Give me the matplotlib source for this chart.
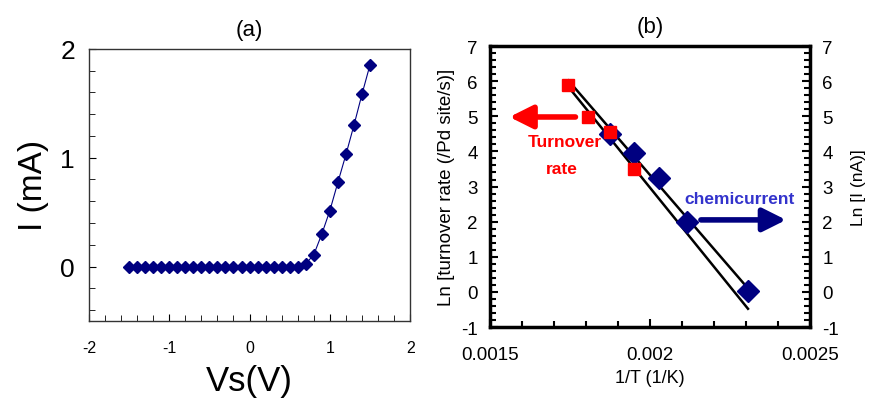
import matplotlib
matplotlib.use("Agg")
import matplotlib.pyplot as plt
from matplotlib.ticker import MultipleLocator
import numpy as np

plt.rcParams['font.family'] = ['Liberation Sans', 'DejaVu Sans']
plt.rcParams['axes.unicode_minus'] = False

# panel (a): I-V curve
vs = np.round(np.arange(-1.5, 1.51, 0.1), 1)
current = [0.0] * 22 + [0.025, 0.11, 0.30, 0.515, 0.775, 1.03, 1.30, 1.585, 1.855]

# panel (b): Arrhenius plot
inv_t_turnover = [0.001745, 0.001807, 0.001875, 0.00195]
ln_turnover = [5.88, 4.99, 4.54, 3.49]
inv_t_chemi = [0.001875, 0.00195, 0.002029, 0.002115, 0.002307]
ln_chemi = [4.49, 3.95, 3.23, 2.0, 0.03]
fit_x = [0.001745, 0.002307]
fit_upper = [6.02, 0.10]
fit_lower = [5.84, -0.48]

navy = '#000080'
red = '#ff0000'

fig = plt.figure(figsize=(8.71, 4.02), dpi=100)

# ---- (a)
ax = fig.add_axes([0.102, 0.199, 0.369, 0.677])
ax.plot(vs, current, color=navy, lw=0.8, marker='D', ms=6.5, mec=navy, mfc=navy)
ax.set_xlim(-2, 2)
ax.set_ylim(-0.5, 2)
ax.xaxis.set_major_locator(MultipleLocator(1))
ax.xaxis.set_minor_locator(MultipleLocator(0.2))
ax.yaxis.set_major_locator(MultipleLocator(1))
ax.yaxis.set_minor_locator(MultipleLocator(0.2))
ax.tick_params(which='both', direction='in', top=False, right=False)
ax.tick_params(axis='x', which='major', length=5, labelsize=11.5, pad=14)
ax.tick_params(axis='x', which='minor', length=4)
ax.tick_params(axis='y', which='major', length=5, labelsize=19, pad=10)
ax.tick_params(axis='y', which='minor', length=4)
for s in ax.spines.values():
    s.set_linewidth(1.0)
    s.set_color('#333333')
ax.set_xlabel('Vs(V)', fontsize=25, labelpad=6)
ax.set_ylabel('I (mA)', fontsize=24, labelpad=8)
ax.set_title('(a)', fontsize=16, pad=10)

# ---- (b)
bx = fig.add_axes([0.5626, 0.184, 0.367, 0.699])
ry = bx.twinx()
ry.set_ylim(-1, 7)
ry.set_yticks([])
for s in ry.spines.values():
    s.set_visible(False)
ry.set_ylabel('Ln [I (nA)]', fontsize=12.5, labelpad=30)

bx.plot(fit_x, fit_upper, color='black', lw=1.8)
bx.plot(fit_x, fit_lower, color='black', lw=1.8)
bx.plot(inv_t_chemi, ln_chemi, ls='none', marker='D', ms=11, color=navy)
bx.plot(inv_t_turnover, ln_turnover, ls='none', marker='s', ms=8, color=red)
bx.set_xlim(0.0015, 0.0025)
bx.set_ylim(-1, 7)
bx.xaxis.set_major_locator(MultipleLocator(0.0005))
bx.xaxis.set_minor_locator(MultipleLocator(0.0001))
bx.xaxis.set_major_formatter(plt.FuncFormatter(lambda v, p: f'{v:g}'))
bx.yaxis.set_major_locator(MultipleLocator(1))
bx.yaxis.set_minor_locator(MultipleLocator(0.2))
bx.tick_params(which='both', direction='in', top=False, left=True, right=True,
               labelleft=True, labelright=True, width=1.5)
bx.tick_params(which='major', length=6, labelsize=13.5)
bx.tick_params(which='minor', length=4)
bx.tick_params(axis='x', pad=14)
bx.tick_params(axis='y', pad=9)
for s in bx.spines.values():
    s.set_linewidth(2.5)
bx.set_xlabel('1/T (1/K)', fontsize=13, labelpad=4)
bx.set_ylabel('Ln [turnover rate (/Pd site/s)]', fontsize=13.5, labelpad=4)
bx.set_title('(b)', fontsize=16, pad=10)

arrow = '-|>,head_length=1.4,head_width=0.7'
bx.annotate('', xy=(0.001552, 4.98), xytext=(0.001776, 4.98),
            arrowprops=dict(arrowstyle=arrow, color=red, lw=4))
bx.annotate('', xy=(0.002435, 2.05), xytext=(0.002151, 2.05),
            arrowprops=dict(arrowstyle=arrow, color=navy, lw=4))
bx.text(0.001734, 4.27, 'Turnover', color=red, fontsize=12.5, fontweight='bold',
        ha='center', va='center')
bx.text(0.001724, 3.51, 'rate', color=red, fontsize=12.5, fontweight='bold',
        ha='center', va='center')
bx.text(0.002281, 2.66, 'chemicurrent', color='#3333cc', fontsize=12.5,
        fontweight='bold', ha='center', va='center')

fig.savefig('out.png', dpi=100)
